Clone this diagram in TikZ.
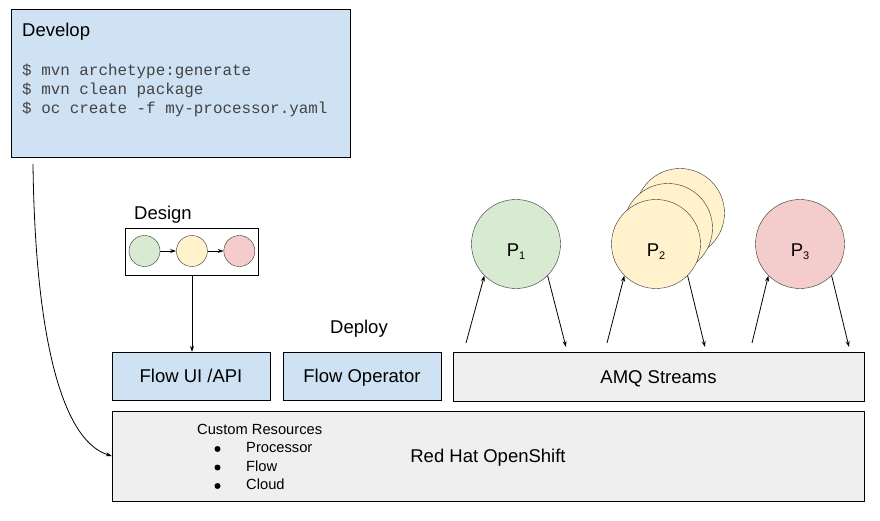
\documentclass[tikz,border=0pt]{standalone}
\usepackage{fontspec}
\setmainfont{Liberation Sans}
\setmonofont{Liberation Mono}
\usepackage{tikz}
\usetikzlibrary{positioning, arrows.meta}
\definecolor{devblue}{HTML}{CFE2F3}
\definecolor{boxgray}{HTML}{EFEFEF}
\definecolor{pgreen}{HTML}{D9EAD3}
\definecolor{pyellow}{HTML}{FFF2CC}
\definecolor{pred}{HTML}{F4CCCC}
\definecolor{codegray}{HTML}{434343}

\begin{document}
\begin{tikzpicture}[x=1pt, y=-1pt, node distance=16pt, every node/.style={font=\fontsize{18.5}{22}\selectfont}]
  \tikzstyle{bluebox} = [rectangle, minimum width=158pt, minimum height=48pt, text centered, text height=13pt, text depth=0pt, draw=black, fill=devblue]
  \tikzstyle{graybox} = [rectangle, text centered, text height=13pt, text depth=0pt, draw=black, fill=boxgray]
  \tikzstyle{proc} = [circle, minimum size=89pt, inner sep=0pt, draw=black!80, text height=24pt, text depth=0pt]
  \tikzstyle{pdot} = [circle, minimum size=31pt, inner sep=0pt, draw=black!80]
  \tikzstyle{bullet} = [circle, minimum size=6pt, inner sep=0pt, fill=black]
  \tikzstyle{arrow} = [line width=0.8pt, -{Stealth[length=6pt, width=4pt]}]
  \tikzstyle{codeline} = [anchor=base west, inner sep=0pt, text=codegray, font=\fontsize{15.9}{19}\ttfamily]
  \tikzstyle{smalltext} = [anchor=base west, inner sep=0pt, font=\fontsize{14.7}{17}\selectfont]

  \useasboundingbox (0,0) rectangle (880,521);

  % develop
  \node (dev) [rectangle, draw=black, fill=devblue, minimum width=339pt, minimum height=148pt] at (180.5,83) {};
  \node (devtitle) [anchor=base west, inner sep=0pt] at (22,37) {Develop};
  \node (cmd1) [codeline] at (22,76) {\$ mvn archetype:generate};
  \node (cmd2) [codeline] at (22,95) {\$ mvn clean package};
  \node (cmd3) [codeline] at (22,114) {\$ oc create -f my-processor.yaml};

  % design
  \node (design) [rectangle, draw=black, minimum width=133pt, minimum height=47pt] at (192,251.5) {};
  \node (designlbl) at (163,215) {Design};
  \node (c1) [pdot, fill=pgreen] at (144.5,251) {};
  \node (c2) [pdot, fill=pyellow, right=of c1] {};
  \node (c3) [pdot, fill=pred, right=of c2] {};
  \draw [arrow] (c1) -- (c2);
  \draw [arrow] (c2) -- (c3);

  % platform
  \node (flowui) [bluebox] at (191,376) {Flow UI /API};
  \node (flowop) [bluebox] at (362,376) {Flow Operator};
  \node (deploy) at (359,329) {Deploy};
  \node (amq) [graybox, minimum width=411pt, minimum height=49pt] at (658.5,376.5) {AMQ Streams};
  \node (osh) [graybox, minimum width=752pt, minimum height=90pt] at (488,456) {Red Hat OpenShift};

  \node (crtitle) [smalltext] at (197,434) {Custom Resources};
  \node (bul1) [bullet] at (217.5,449) {};
  \node (bul2) [bullet] at (217.5,467.5) {};
  \node (bul3) [bullet] at (217.5,486) {};
  \node (cr1) [smalltext] at (246,452.5) {Processor};
  \node (cr2) [smalltext] at (246,471) {Flow};
  \node (cr3) [smalltext] at (246,489) {Cloud};

  \draw [arrow] (design.south) -- (design.south |- flowui.north);
  \coordinate (devout) at (33,164);
  \draw [arrow] (devout) .. controls (35,330) and (60,440) .. (osh.west);

  % processors
  \node (p1) [proc, fill=pgreen] at (516,244) {P\raisebox{-3pt}{\fontsize{11}{13}\selectfont 1}};
  \node (p2back) [proc, fill=pyellow] at (680,213) {};
  \node (p2mid) [proc, fill=pyellow] at (668,228) {};
  \node (p2) [proc, fill=pyellow] at (656,244) {P\raisebox{-3pt}{\fontsize{11}{13}\selectfont 2}};
  \node (p3) [proc, fill=pred] at (800,244) {P\raisebox{-3pt}{\fontsize{11}{13}\selectfont 3}};

  \coordinate (in1) at (466,343);
  \coordinate (out1) at (566,347);
  \coordinate (in2) at (607,343);
  \coordinate (out2) at (705,347);
  \coordinate (in3) at (752,343);
  \coordinate (out3) at (849,347);
  \draw [arrow] (in1) -- (p1.225);
  \draw [arrow] (p1.-45) -- (out1);
  \draw [arrow] (in2) -- (p2.225);
  \draw [arrow] (p2.-45) -- (out2);
  \draw [arrow] (in3) -- (p3.225);
  \draw [arrow] (p3.-45) -- (out3);
\end{tikzpicture}
\end{document}
